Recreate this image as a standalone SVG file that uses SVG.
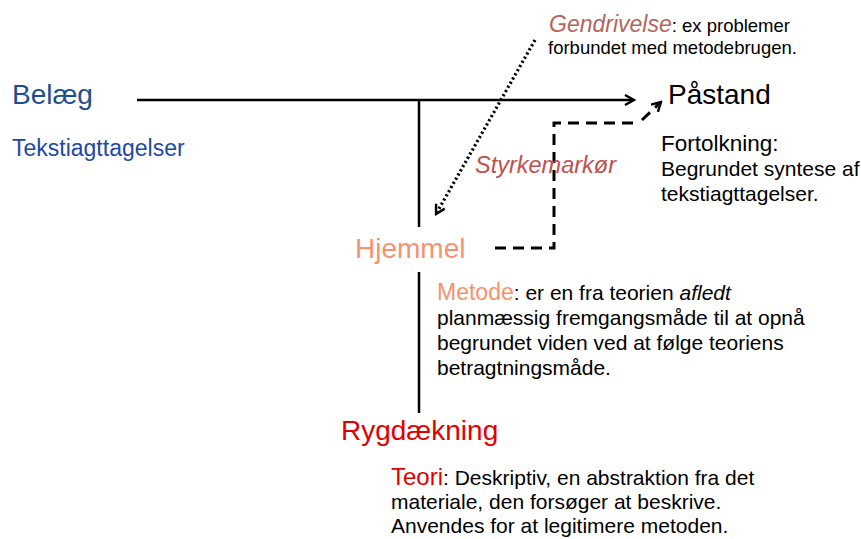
<svg xmlns="http://www.w3.org/2000/svg" width="861" height="539" viewBox="0 0 861 539">
  <defs>
    <marker id="vhead" viewBox="0 0 12 12" refX="10" refY="6" markerWidth="12" markerHeight="12" markerUnits="userSpaceOnUse" orient="auto">
      <path d="M1,1 L10,6 L1,11" fill="none" stroke="#000" stroke-width="2.4"/>
    </marker>
  </defs>
  <style>
    text { font-family: "Liberation Sans", Arial, sans-serif; fill: #000; }
    .big { font-size: 28px; }
    .body { font-size: 21px; }
    .small { font-size: 18.5px; }
    .blue { fill: #1F4E8F; }
    .blue2 { fill: #2148A6; }
    .salmon { fill: #F79270; }
    .red { fill: #E10000; }
    .rose { fill: #B5645E; }
    .rust { fill: #C0504D; }
    .solid { fill: none; stroke: #000; stroke-width: 2.5; }
    .dash { fill: none; stroke: #000; stroke-width: 3; stroke-dasharray: 11 7; }
    .dot { fill: none; stroke: #000; stroke-width: 3.2; stroke-dasharray: 2.2 2.6; }
  </style>

  <g id="connectors">
    <!-- main claim arrow -->
    <line class="solid" x1="137" y1="100" x2="634" y2="100" marker-end="url(#vhead)"/>
    <!-- warrant stem above and below Hjemmel -->
    <line class="solid" x1="419" y1="99" x2="419" y2="227"/>
    <line class="solid" x1="419" y1="272" x2="419" y2="413"/>
    <!-- qualifier path from Hjemmel to Påstand -->
    <path class="dash" d="M495,248 H554 V123 H640"/>
    <line class="dash" x1="642" y1="120" x2="661" y2="102" stroke-dasharray="9 5" marker-end="url(#vhead)"/>
    <!-- rebuttal -->
    <line class="dot" x1="535" y1="40" x2="436" y2="214" marker-end="url(#vhead)"/>
  </g>

  <g id="belaeg">
    <text class="big blue" x="12" y="104">Belæg</text>
    <text class="blue2" x="12" y="156" style="font-size:23px">Tekstiagttagelser</text>
  </g>

  <g id="paastand">
    <text class="big" x="668" y="104">Påstand</text>
    <text x="661" y="151" style="font-size:22.5px">Fortolkning:</text>
    <text class="body" x="661" y="176">Begrundet syntese af</text>
    <text class="body" x="661" y="201">tekstiagttagelser.</text>
  </g>

  <g id="gendrivelse">
    <text class="small" x="549" y="32"><tspan class="rose" style="font-size:23px;font-style:italic">Gendrivelse</tspan>: ex problemer</text>
    <text class="small" x="548" y="54">forbundet med metodebrugen.</text>
  </g>

  <g id="styrkemarkoer">
    <text class="rust" x="475" y="173" style="font-size:23.5px;font-style:italic">Styrkemarkør</text>
  </g>

  <g id="hjemmel">
    <text class="big salmon" x="355" y="258">Hjemmel</text>
    <text class="body" x="437" y="300"><tspan class="salmon" style="font-size:23px">Metode</tspan>: er en fra teorien <tspan font-style="italic">afledt</tspan></text>
    <text class="body" x="437" y="325">planmæssig fremgangsmåde til at opnå</text>
    <text class="body" x="437" y="350">begrundet viden ved at følge teoriens</text>
    <text class="body" x="437" y="375">betragtningsmåde.</text>
  </g>

  <g id="rygdaekning">
    <text class="big red" x="341" y="440">Rygdækning</text>
    <text class="body" x="391" y="485"><tspan class="red" style="font-size:24px">Teori</tspan>: Deskriptiv, en abstraktion fra det</text>
    <text class="body" x="391" y="509">materiale, den forsøger at beskrive.</text>
    <text class="body" x="391" y="533">Anvendes for at legitimere metoden.</text>
  </g>
</svg>
